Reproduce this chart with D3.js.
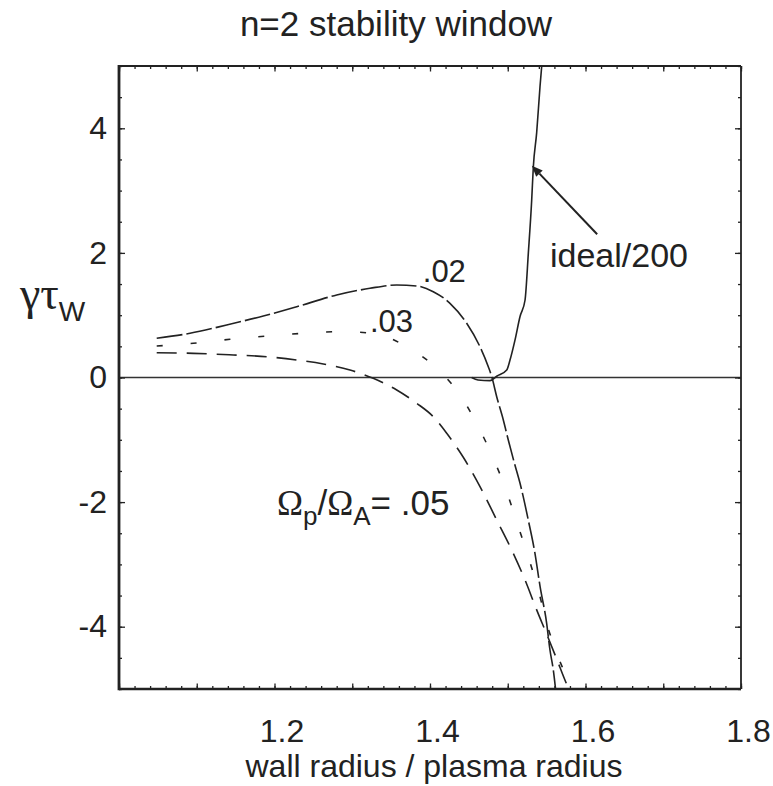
<!DOCTYPE html>
<html>
<head>
<meta charset="utf-8">
<script src="https://cdn.jsdelivr.net/npm/d3@7"></script>
<style>
  html, body { margin: 0; padding: 0; background: #fff; }
  svg { display: block; }
  text { font-family: "Liberation Sans", Arial, Helvetica, sans-serif; fill: #222; }
</style>
</head>
<body>
<svg id="chart" width="773" height="786"></svg>
<script>
// Tick values
const xTickLabels = [1.2, 1.4, 1.6, 1.8];
const yTickLabels = [-4, -2, 0, 2, 4];

// Growth rate γτw versus wall radius / plasma radius, Ωp/ΩA = .02
const rOmega02 = [1.0485, 1.0913, 1.1385, 1.1856, 1.2286, 1.2800, 1.3228, 1.3572, 1.3829, 1.4042,
                  1.4257, 1.4472, 1.4643, 1.4750, 1.4794, 1.4858, 1.4943, 1.5007, 1.5080, 1.5158,
                  1.5264, 1.5350, 1.5415, 1.5501, 1.5543, 1.5586, 1.5615];
const gOmega02 = [0.629, 0.709, 0.843, 0.987, 1.136, 1.324, 1.432, 1.485, 1.469, 1.377,
                  1.191, 0.870, 0.494, 0.173, 0.013, -0.308, -0.682, -1.003, -1.350, -1.698,
                  -2.287, -2.822, -3.350, -3.950, -4.374, -4.695, -5.000];

// Ωp/ΩA = .03
const rOmega03 = [1.0485, 1.0956, 1.1428, 1.1900, 1.2370, 1.2842, 1.3270, 1.3700, 1.4086, 1.4386,
                  1.4621, 1.4814, 1.4986, 1.5136, 1.5277, 1.5406, 1.5501, 1.5630, 1.5758, 1.5788];
const gOmega03 = [0.506, 0.549, 0.613, 0.666, 0.709, 0.735, 0.709, 0.494, 0.148, -0.281,
                  -0.790, -1.297, -1.833, -2.395, -2.929, -3.475, -3.945, -4.427, -4.856, -5.000];

// Ωp/ΩA = .05
const rOmega05 = [1.0485, 1.0956, 1.1470, 1.1900, 1.2286, 1.2628, 1.2971, 1.3270, 1.3572, 1.3829,
                  1.4042, 1.4215, 1.4428, 1.4643, 1.4858, 1.5051, 1.5222, 1.5372, 1.5501, 1.5630,
                  1.5750, 1.5785];
const gOmega05 = [0.398, 0.388, 0.361, 0.334, 0.281, 0.217, 0.120, -0.013, -0.201, -0.414,
                  -0.629, -0.896, -1.280, -1.750, -2.287, -2.769, -3.250, -3.730, -4.120, -4.520,
                  -4.900, -5.000];

// Ideal-wall growth rate divided by 200
const rIdeal = [1.4536, 1.4617, 1.4772, 1.4858, 1.4987, 1.5029, 1.5093, 1.5158, 1.5222, 1.5265,
                1.5308, 1.5329, 1.5372, 1.5415, 1.5437];
const gIdeal = [0.000, -0.040, -0.050, 0.020, 0.120, 0.280, 0.600, 0.980, 1.240, 2.000,
                2.850, 3.380, 3.930, 4.670, 5.000];

const svg = d3.select("#chart");
const ink = "#222";

const plotLeft = 119, plotRight = 741, plotTop = 66, plotBottom = 689;
const x = d3.scaleLinear().domain([1.0, 1.8]).range([plotLeft, plotRight]);
const y = d3.scaleLinear().domain([-5, 5]).range([plotBottom, plotTop]);

// clip region for the curves
svg.append("defs").append("clipPath").attr("id", "plotArea")
  .append("rect").attr("x", plotLeft).attr("y", plotTop)
  .attr("width", plotRight - plotLeft).attr("height", plotBottom - plotTop);

// title
svg.append("text")
  .attr("x", 396).attr("y", 36)
  .attr("text-anchor", "middle")
  .style("font-size", "35px")
  .text("n=2 stability window");

// zero line
svg.append("line")
  .attr("x1", plotLeft).attr("x2", plotRight)
  .attr("y1", y(0)).attr("y2", y(0))
  .attr("stroke", "#333").attr("stroke-width", 1.5);

// tick marks on all four frame sides, pointing inward
const xMinor = d3.range(0, 41).map(i => 1.0 + i * 0.02);
const xMedium = d3.range(0, 9).map(i => 1.0 + i * 0.1);
const yMinor = d3.range(0, 21).map(i => -5 + i * 0.5);

function tickLayer(axisFn, scale, values, size, transform) {
  const g = svg.append("g").attr("transform", transform)
    .call(axisFn(scale).tickValues(values).tickSize(size).tickFormat(""));
  g.select(".domain").remove();
  g.selectAll(".tick line").attr("stroke", ink).attr("stroke-width", 1.3);
  return g;
}
tickLayer(d3.axisBottom, x, xMinor, -3, `translate(0,${plotBottom})`);
tickLayer(d3.axisBottom, x, xMedium, -5.5, `translate(0,${plotBottom})`);
tickLayer(d3.axisTop, x, xMinor, -3, `translate(0,${plotTop})`);
tickLayer(d3.axisTop, x, xMedium, -5.5, `translate(0,${plotTop})`);
tickLayer(d3.axisLeft, y, yMinor, -3, `translate(${plotLeft},0)`);
tickLayer(d3.axisLeft, y, yTickLabels, -6, `translate(${plotLeft},0)`);
tickLayer(d3.axisRight, y, yMinor, -3, `translate(${plotRight},0)`);
tickLayer(d3.axisRight, y, yTickLabels, -6, `translate(${plotRight},0)`);

// tick labels
const xLab = svg.append("g").attr("transform", `translate(7,${plotBottom})`)
  .call(d3.axisBottom(x).tickValues(xTickLabels).tickSize(0).tickPadding(30)
    .tickFormat(d3.format(".1f")));
xLab.select(".domain").remove();
xLab.selectAll("text").style("font-size", "32px").attr("fill", ink)
  .style("font-family", '"Liberation Sans", Arial, sans-serif');

const yLab = svg.append("g").attr("transform", `translate(${plotLeft},0)`)
  .call(d3.axisLeft(y).tickValues(yTickLabels).tickSize(0).tickPadding(12)
    .tickFormat(d => String(d)));
yLab.select(".domain").remove();
yLab.selectAll("text").style("font-size", "32px").attr("fill", ink)
  .style("font-family", '"Liberation Sans", Arial, sans-serif');

// frame: heavier left and bottom edges
svg.append("line").attr("x1", plotLeft).attr("x2", plotRight).attr("y1", plotTop).attr("y2", plotTop)
  .attr("stroke", ink).attr("stroke-width", 1.8);
svg.append("line").attr("x1", plotRight).attr("x2", plotRight).attr("y1", plotTop).attr("y2", plotBottom)
  .attr("stroke", ink).attr("stroke-width", 1.8);
svg.append("line").attr("x1", plotLeft).attr("x2", plotRight).attr("y1", plotBottom).attr("y2", plotBottom)
  .attr("stroke", ink).attr("stroke-width", 2.4);
svg.append("line").attr("x1", plotLeft).attr("x2", plotLeft).attr("y1", plotTop - 0.9).attr("y2", plotBottom + 1.2)
  .attr("stroke", ink).attr("stroke-width", 2.8);

// curves
const line = d3.line().x(d => x(d[0])).y(d => y(d[1])).curve(d3.curveMonotoneX);
const series = [
  { r: rOmega02, g: gOmega02, dash: "26 4" },
  { r: rOmega03, g: gOmega03, dash: "6 28" },
  { r: rOmega05, g: gOmega05, dash: "20 10" },
  { r: rIdeal,  g: gIdeal,  dash: null }
];
const curves = svg.append("g").attr("clip-path", "url(#plotArea)");
series.forEach(s => {
  curves.append("path")
    .datum(d3.zip(s.r, s.g))
    .attr("d", line)
    .attr("fill", "none")
    .attr("stroke", ink)
    .attr("stroke-width", 1.6)
    .attr("stroke-dasharray", s.dash);
});

// curve labels
svg.append("text").attr("x", x(1.3907)).attr("y", y(1.53))
  .style("font-size", "31px").text(".02");
svg.append("text").attr("x", x(1.3228)).attr("y", y(0.73))
  .style("font-size", "31px").text(".03");

const omegaLab = svg.append("text").attr("x", x(1.2032)).attr("y", y(-2.207))
  .style("font-size", "35px");
omegaLab.append("tspan").style("font-family", '"Liberation Serif", "Times New Roman", serif').text("Ω");
omegaLab.append("tspan").attr("dy", 10).style("font-size", "26px").text("p");
omegaLab.append("tspan").attr("dy", -10).text("/");
omegaLab.append("tspan").style("font-family", '"Liberation Serif", "Times New Roman", serif').text("Ω");
omegaLab.append("tspan").attr("dy", 10).style("font-size", "26px").text("A");
omegaLab.append("tspan").attr("dy", -10).text("= .05");

// ideal curve annotation with arrow
svg.append("text").attr("x", x(1.5543)).attr("y", y(1.774))
  .style("font-size", "34px").text("ideal/200");

const tail = [x(1.615), y(2.30)], tip = [x(1.531), y(3.40)];
const ang = Math.atan2(tip[1] - tail[1], tip[0] - tail[0]);
const headLen = 11, headHalf = 4.5;
const base = [tip[0] - headLen * Math.cos(ang), tip[1] - headLen * Math.sin(ang)];
svg.append("line")
  .attr("x1", tail[0]).attr("y1", tail[1]).attr("x2", base[0]).attr("y2", base[1])
  .attr("stroke", ink).attr("stroke-width", 2);
svg.append("path")
  .attr("d", d3.line()([
    tip,
    [base[0] + headHalf * Math.sin(ang), base[1] - headHalf * Math.cos(ang)],
    [base[0] - headHalf * Math.sin(ang), base[1] + headHalf * Math.cos(ang)]
  ]) + "Z")
  .attr("fill", ink);

// axis titles
svg.append("text")
  .attr("x", 434).attr("y", 777)
  .attr("text-anchor", "middle")
  .style("font-size", "32px")
  .text("wall radius / plasma radius");

const yTitle = svg.append("text").attr("x", 20).attr("y", 309);
yTitle.append("tspan")
  .style("font-family", '"Liberation Serif", "Times New Roman", serif')
  .style("font-size", "46px")
  .text("γτ");
yTitle.append("tspan").attr("dy", 12).style("font-size", "28px").text("W");
</script>
</body>
</html>
